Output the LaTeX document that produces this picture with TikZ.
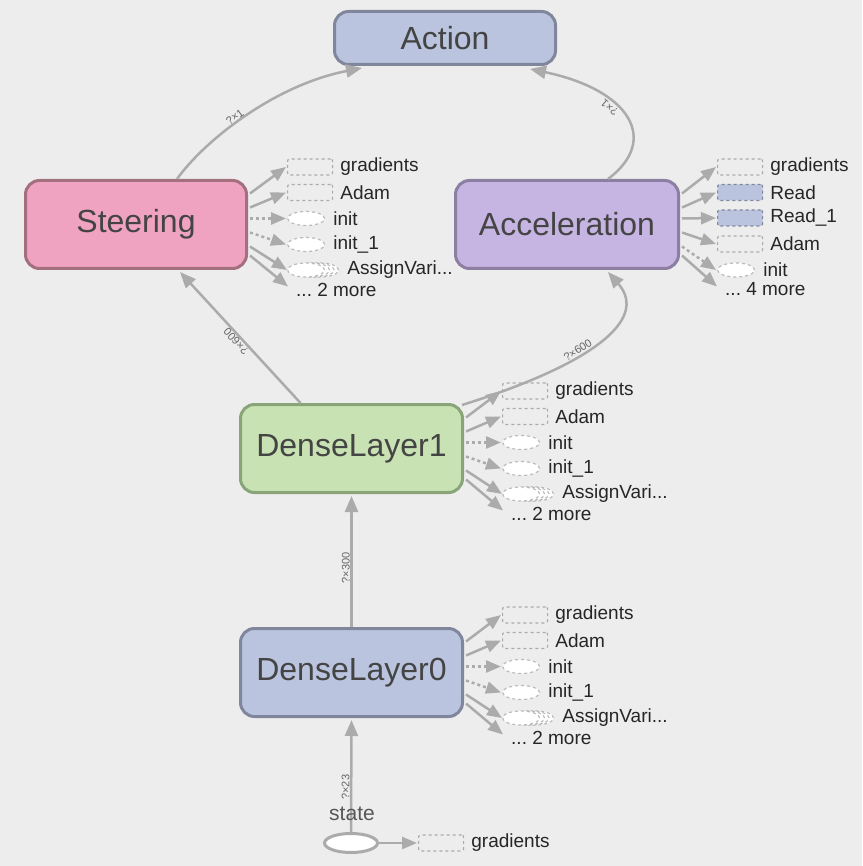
\documentclass[tikz,border=0pt]{standalone}
\usepackage{fontspec}
\setmainfont{Liberation Sans}
\usetikzlibrary{arrows.meta,shapes.geometric,calc}
\frenchspacing
\definecolor{bg}{HTML}{EDEDED}
\definecolor{edgec}{HTML}{ABABAB}
\definecolor{textc}{HTML}{444444}
\definecolor{lblc}{HTML}{666666}
\definecolor{blufill}{HTML}{BBC4DE}
\definecolor{bludraw}{HTML}{80869B}
\definecolor{pinkfill}{HTML}{F0A3C0}
\definecolor{pinkdraw}{HTML}{A3707F}
\definecolor{lavfill}{HTML}{C6B4E2}
\definecolor{lavdraw}{HTML}{8C7FA2}
\definecolor{grnfill}{HTML}{C8E2B4}
\definecolor{grndraw}{HTML}{8AA47A}
\definecolor{itemdraw}{HTML}{AAAAAA}
\definecolor{elldraw}{HTML}{BBBBBB}
\tikzset{
  mainbox/.style={rectangle, rounded corners=14pt, line width=3pt, minimum width=221pt,
    minimum height=88pt, font=\fontsize{32}{36}\selectfont, text=textc, inner sep=0pt},
  edge/.style={draw=edgec, line width=2.5pt, -{Triangle[length=16pt,width=13pt]}},
  sedge/.style={draw=edgec, line width=2.5pt, -{Triangle[length=15pt,width=12pt]}},
  dedge/.style={sedge, dash pattern=on 3pt off 3pt},
  elbl/.style={font=\fontsize{11}{12}\selectfont, text=lblc, sloped, allow upside down, inner sep=0.5pt, above},
  ritem/.style={rectangle, draw=itemdraw, dashed, line width=1.2pt, rounded corners=2pt,
    minimum width=45pt, minimum height=16pt, inner sep=0pt},
  fitem/.style={ritem, fill=blufill, draw=bludraw},
  eitem/.style={ellipse, draw=elldraw, dashed, line width=1.2pt, fill=white,
    minimum width=37pt, minimum height=14pt, inner sep=0pt},
  itext/.style={font=\fontsize{19}{21}\selectfont, text=black!85, inner sep=0pt, anchor=west},
}
% standard side group: #1 prefix, #2 source node, #3 left x, #4 first y
\newcommand\stdgroup[4]{%
  \node[ritem, anchor=west] (#1g) at (#3,#4) {};
  \node[itext] (#1gt) at ($(#1g.east)+(7,0)$) {gradients};
  \node[ritem, anchor=west] (#1d) at (#3,#4+25.5) {};
  \node[itext] (#1dt) at ($(#1d.east)+(7,0)$) {Adam};
  \node[eitem, anchor=west] (#1i) at (#3,#4+51.5) {};
  \node[itext] (#1it) at ($(#1i.east)+(8,0)$) {init};
  \node[eitem, anchor=west] (#1j) at (#3,#4+77.5) {};
  \node[itext] (#1jt) at ($(#1j.east)+(8,0)$) {init\_1};
  \node[eitem, anchor=west] (#1a3) at (#3+14,#4+103) {};
  \node[eitem, anchor=west] (#1a2) at (#3+9.5,#4+103) {};
  \node[eitem, anchor=west] (#1a1) at (#3+5,#4+103) {};
  \node[eitem, anchor=west] (#1a) at (#3,#4+103) {};
  \node[itext] (#1at) at ($(#1a3.east)+(8,0)$) {AssignVari...};
  \node[itext] (#1m) at (#3+9,#4+122.5) {... 2 more};
  \draw[sedge] ($(#2.east)+(2,-31)$) -- ($(#1g.west)+(-1,0)$);
  \draw[sedge] ($(#2.east)+(2,-17)$) -- ($(#1d.west)+(-1,0)$);
  \draw[dedge] ($(#2.east)+(2,-6)$) -- ($(#1i.west)+(-1,0)$);
  \draw[dedge] ($(#2.east)+(2,8)$) -- ($(#1j.west)+(-1,0)$);
  \draw[sedge] ($(#2.east)+(2,22)$) -- ($(#1a.west)+(0,0)$);
  \draw[sedge] ($(#2.east)+(2,31)$) -- ($(#1m.west)+(-8,-3)$);
}
\begin{document}
\begin{tikzpicture}[x=1pt,y=-1pt]
\fill[bg] (0,0) rectangle (862,866);
\useasboundingbox (0,0) rectangle (862,866);

% main nodes
\node[mainbox, fill=blufill, draw=bludraw, minimum height=53pt] (action) at (445,38) {Action};
\node[mainbox, fill=pinkfill, draw=pinkdraw] (steer) at (136,224.5) {Steering};
\node[mainbox, fill=lavfill, draw=lavdraw, minimum width=223pt] (accel) at (567,224.5) {Acceleration};
\node[mainbox, fill=grnfill, draw=grndraw, minimum width=222pt] (dl1) at (351.5,448.5) {DenseLayer1};
\node[mainbox, fill=blufill, draw=bludraw, minimum width=222pt] (dl0) at (351.5,672.5) {DenseLayer0};
\node[ellipse, draw=edgec, fill=white, line width=3pt, minimum width=53pt, minimum height=19pt, inner sep=0pt] (state) at (351,843) {};

% main edges
\draw[edge] ($(steer.north)+(41,0)$) .. controls (205,140) and (275,85) .. ($(action.south)+(-83,2)$)
  node[elbl, pos=0.45] {?×1};
\draw[edge] ($(accel.north)+(41,0)$) .. controls (660,140) and (630,90) .. ($(action.south)+(85,3)$)
  node[elbl, pos=0.62] {?×1};
\draw[edge] ($(dl1.north)+(-51,0)$) -- ($(steer.south)+(44,2)$)
  node[elbl, pos=0.5] {?×600};
\draw[edge] ($(dl1.north east)+(-2,2)$) .. controls (590,365) and (650,320) .. ($(accel.south)+(41,2)$)
  node[elbl, pos=0.4] {?×600};
\draw[edge] (dl0.north) -- ($(dl1.south)+(0,2)$)
  node[elbl, pos=0.45] {?×300};
\draw[edge] (state.north) -- ($(dl0.south)+(0,2)$)
  node[elbl, pos=0.4] {?×23};
\node[font=\fontsize{21}{24}\selectfont, text=textc!90, inner sep=0pt] (statelbl) at (352,814) {state};

% state side
\node[ritem, anchor=west] (sg) at (418,843) {};
\node[itext] (sgt) at ($(sg.east)+(7,0)$) {gradients};
\draw[sedge] (state.east) -- ($(sg.west)+(-1,0)$);

% side groups
\stdgroup{s}{steer}{287}{167}
\stdgroup{b}{dl1}{502}{391}
\stdgroup{c}{dl0}{502}{615}

% acceleration side group
\node[ritem, anchor=west] (ag) at (717,167) {};
\node[itext] (agt) at ($(ag.east)+(7,0)$) {gradients};
\node[fitem, anchor=west] (ar) at (717,192.5) {};
\node[itext] (art) at ($(ar.east)+(7,0)$) {Read};
\node[fitem, anchor=west] (ar1) at (717,218) {};
\node[itext] (ar1t) at ($(ar1.east)+(7,0)$) {Read\_1};
\node[ritem, anchor=west] (ad) at (717,244) {};
\node[itext] (adt) at ($(ad.east)+(7,0)$) {Adam};
\node[eitem, anchor=west] (ai) at (717,270) {};
\node[itext] (ait) at ($(ai.east)+(8,0)$) {init};
\node[itext] (am) at (725,289.5) {... 4 more};
\draw[sedge] ($(accel.east)+(2,-31)$) -- ($(ag.west)+(-1,0)$);
\draw[sedge] ($(accel.east)+(2,-17)$) -- ($(ar.west)+(-1,0)$);
\draw[sedge] ($(accel.east)+(2,-6)$) -- ($(ar1.west)+(-1,0)$);
\draw[sedge] ($(accel.east)+(2,8)$) -- ($(ad.west)+(-1,0)$);
\draw[dedge] ($(accel.east)+(2,22)$) -- ($(ai.west)+(-1,0)$);
\draw[sedge] ($(accel.east)+(2,31)$) -- ($(am.west)+(-8,-3)$);
\end{tikzpicture}
\end{document}
